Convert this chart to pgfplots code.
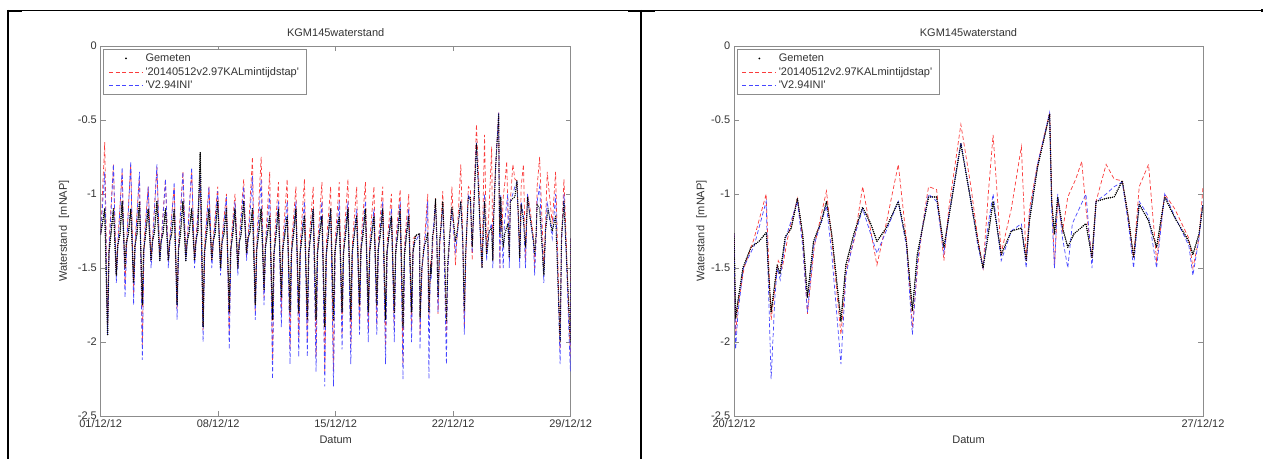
\documentclass[border=0pt]{standalone}
\usepackage{fontspec}
\setmainfont{Liberation Sans}
\usepackage{pgfplots}
\usepackage{pgfplotstable}
\pgfplotsset{compat=1.18}

% ---------- right panel (days after 20/12/12) ----------
\pgfplotstableread{
t y
0.000 -1.27
0.024 -1.84
0.060 -1.72
0.133 -1.50
0.253 -1.36
0.373 -1.32
0.482 -1.26
0.512 -1.50
0.554 -1.80
0.602 -1.63
0.645 -1.48
0.687 -1.54
0.765 -1.29
0.855 -1.23
0.946 -1.03
1.024 -1.27
1.096 -1.70
1.187 -1.32
1.307 -1.18
1.380 -1.05
1.458 -1.27
1.596 -1.86
1.669 -1.48
1.789 -1.27
1.920 -1.09
2.040 -1.20
2.133 -1.32
2.271 -1.23
2.452 -1.05
2.572 -1.32
2.663 -1.79
2.735 -1.41
2.813 -1.23
2.904 -1.02
3.024 -1.02
3.133 -1.36
3.205 -1.16
3.386 -0.66
3.536 -1.05
3.639 -1.32
3.717 -1.50
3.795 -1.27
3.867 -1.05
3.988 -1.41
4.139 -1.25
4.289 -1.23
4.361 -1.45
4.410 -1.18
4.530 -0.82
4.711 -0.46
4.741 -1.05
4.783 -1.27
4.831 -1.02
4.904 -1.23
4.982 -1.36
5.072 -1.27
5.253 -1.20
5.343 -1.43
5.404 -1.05
5.554 -1.03
5.675 -1.02
5.795 -0.91
5.886 -1.16
5.964 -1.43
6.048 -1.07
6.187 -1.18
6.307 -1.36
6.428 -1.02
6.578 -1.16
6.789 -1.32
6.849 -1.41
6.940 -1.27
7.000 -1.07
}\RGem

\pgfplotstableread{
t y
0.000 -1.27
0.024 -1.95
0.060 -1.75
0.150 -1.50
0.300 -1.30
0.480 -1.00
0.512 -1.40
0.554 -1.85
0.620 -1.60
0.660 -1.45
0.720 -1.50
0.800 -1.30
0.946 -1.03
1.024 -1.30
1.096 -1.81
1.200 -1.35
1.380 -0.98
1.458 -1.30
1.596 -1.95
1.680 -1.50
1.800 -1.30
1.920 -0.95
2.133 -1.48
2.271 -1.20
2.452 -0.80
2.572 -1.30
2.663 -1.90
2.750 -1.45
2.850 -1.10
2.904 -0.95
3.024 -0.97
3.133 -1.45
3.205 -1.10
3.386 -0.53
3.536 -0.95
3.639 -1.30
3.717 -1.50
3.795 -1.00
3.867 -0.60
3.988 -1.40
4.139 -1.10
4.289 -0.68
4.361 -1.45
4.410 -1.10
4.530 -0.80
4.711 -0.45
4.741 -1.00
4.783 -1.50
4.831 -1.05
4.904 -1.25
4.982 -1.02
5.100 -0.90
5.190 -0.78
5.253 -1.10
5.343 -1.43
5.404 -1.05
5.554 -0.80
5.675 -0.90
5.795 -0.91
5.886 -1.16
5.964 -1.43
6.048 -0.95
6.187 -0.80
6.307 -1.45
6.428 -1.00
6.578 -1.10
6.789 -1.30
6.849 -1.50
6.940 -1.30
7.000 -0.95
}\RRed

\pgfplotstableread{
t y
0.000 -1.27
0.024 -2.05
0.060 -1.80
0.140 -1.50
0.300 -1.35
0.480 -1.05
0.512 -1.60
0.554 -2.25
0.610 -1.70
0.645 -1.50
0.690 -1.58
0.770 -1.30
0.946 -1.05
1.024 -1.35
1.096 -1.80
1.190 -1.35
1.380 -1.08
1.458 -1.40
1.596 -2.15
1.670 -1.55
1.790 -1.30
1.920 -1.10
2.133 -1.40
2.271 -1.25
2.452 -1.05
2.572 -1.35
2.663 -1.95
2.740 -1.45
2.820 -1.20
2.904 -1.00
3.024 -1.05
3.133 -1.40
3.205 -1.15
3.386 -0.65
3.536 -1.05
3.639 -1.35
3.717 -1.50
3.795 -1.20
3.867 -1.00
3.988 -1.45
4.139 -1.25
4.289 -1.20
4.361 -1.50
4.410 -1.15
4.530 -0.80
4.711 -0.45
4.741 -1.10
4.783 -1.50
4.831 -1.00
4.904 -1.30
4.982 -1.50
5.050 -1.20
5.253 -1.00
5.343 -1.50
5.404 -1.05
5.554 -1.00
5.675 -0.95
5.795 -0.92
5.886 -1.20
5.964 -1.50
6.048 -1.05
6.187 -1.15
6.307 -1.50
6.428 -1.00
6.578 -1.15
6.789 -1.35
6.849 -1.55
6.940 -1.30
7.000 -1.05
}\RBlue

% ---------- left panel, days after 01/12/12 (0 to 19) ----------
\pgfplotstableread{
t y
0.00 -1.27
0.24 -1.10
0.41 -1.95
0.49 -1.40
0.60 -1.28
0.76 -1.10
0.93 -1.55
1.01 -1.35
1.15 -1.27
1.28 -1.05
1.45 -1.50
1.53 -1.33
1.65 -1.27
1.79 -1.10
1.96 -1.60
2.04 -1.35
2.16 -1.27
2.31 -1.05
2.48 -1.75
2.56 -1.38
2.68 -1.27
2.83 -1.10
3.00 -1.45
3.08 -1.32
3.20 -1.26
3.35 -1.05
3.52 -1.45
3.60 -1.32
3.72 -1.26
3.86 -1.10
4.03 -1.45
4.11 -1.32
4.23 -1.27
4.38 -1.10
4.55 -1.75
4.63 -1.38
4.75 -1.27
4.90 -1.05
5.07 -1.45
5.15 -1.32
5.27 -1.26
5.42 -1.10
5.59 -1.45
5.67 -1.32
5.79 -1.25
5.93 -0.72
6.10 -1.90
6.18 -1.40
6.30 -1.28
6.45 -1.10
6.62 -1.45
6.70 -1.32
6.82 -1.26
6.97 -1.05
7.14 -1.50
7.22 -1.33
7.34 -1.27
7.49 -1.10
7.66 -1.80
7.74 -1.38
7.86 -1.28
8.00 -1.10
8.17 -1.50
8.25 -1.33
8.37 -1.27
8.52 -1.05
8.69 -1.40
8.77 -1.30
8.89 -1.26
9.04 -1.10
9.21 -1.75
9.29 -1.38
9.41 -1.27
9.56 -1.10
9.73 -1.65
9.81 -1.36
9.93 -1.27
10.07 -1.15
10.24 -1.85
10.32 -1.40
10.44 -1.28
10.59 -1.10
10.76 -1.70
10.84 -1.38
10.96 -1.28
11.11 -1.15
11.28 -1.80
11.36 -1.40
11.48 -1.28
11.63 -1.10
11.80 -1.80
11.88 -1.40
12.00 -1.28
12.14 -1.15
12.31 -1.85
12.39 -1.40
12.51 -1.28
12.66 -1.10
12.83 -1.85
12.91 -1.40
13.03 -1.28
13.18 -1.15
13.35 -1.90
13.43 -1.42
13.55 -1.29
13.70 -1.10
13.87 -1.85
13.95 -1.40
14.07 -1.28
14.21 -1.15
14.38 -1.80
14.46 -1.40
14.58 -1.28
14.73 -1.10
14.90 -1.85
14.98 -1.40
15.10 -1.28
15.25 -1.15
15.42 -1.75
15.50 -1.38
15.62 -1.28
15.77 -1.10
15.94 -1.80
16.02 -1.40
16.14 -1.28
16.28 -1.15
16.45 -1.75
16.53 -1.38
16.65 -1.28
16.80 -1.10
16.97 -1.85
17.05 -1.40
17.17 -1.28
17.32 -1.15
17.49 -1.80
17.57 -1.40
17.69 -1.28
17.84 -1.10
18.01 -1.90
18.09 -1.42
18.21 -1.28
18.35 -1.15
18.52 -1.80
18.60 -1.40
18.75 -1.28
19.00 -1.27
}\LGem

\pgfplotstableread{
t y
0.00 -1.27
0.24 -0.65
0.41 -1.90
0.51 -1.30
0.76 -0.80
0.93 -1.55
1.03 -1.30
1.28 -0.85
1.45 -1.62
1.55 -1.30
1.79 -0.80
1.96 -1.68
2.06 -1.30
2.31 -0.88
2.48 -2.02
2.58 -1.32
2.83 -0.95
3.00 -1.45
3.10 -1.28
3.35 -0.82
3.52 -1.42
3.62 -1.28
3.86 -0.90
4.03 -1.45
4.13 -1.28
4.38 -0.95
4.55 -1.78
4.65 -1.30
4.90 -0.85
5.07 -1.42
5.17 -1.28
5.42 -0.85
5.59 -1.45
5.69 -1.28
5.93 -0.90
6.10 -1.92
6.20 -1.32
6.45 -0.95
6.62 -1.45
6.72 -1.28
6.97 -0.95
7.14 -1.50
7.24 -1.28
7.49 -1.00
7.66 -1.95
7.76 -1.32
8.00 -1.00
8.17 -1.50
8.27 -1.28
8.52 -0.90
8.69 -1.42
8.79 -1.28
9.04 -0.75
9.21 -1.80
9.31 -1.30
9.56 -0.75
9.73 -1.70
9.83 -1.30
10.07 -0.85
10.24 -2.15
10.34 -1.32
10.59 -0.92
10.76 -1.82
10.86 -1.30
11.11 -0.90
11.28 -2.05
11.38 -1.32
11.63 -0.95
11.80 -2.00
11.90 -1.32
12.14 -0.90
12.31 -2.00
12.41 -1.32
12.66 -0.95
12.83 -2.10
12.93 -1.32
13.18 -0.92
13.35 -2.20
13.45 -1.32
13.70 -0.95
13.87 -2.20
13.97 -1.32
14.21 -0.92
14.38 -1.95
14.48 -1.32
14.73 -0.90
14.90 -2.05
15.00 -1.32
15.25 -0.95
15.42 -1.88
15.52 -1.30
15.77 -0.92
15.94 -1.92
16.04 -1.30
16.28 -0.95
16.45 -1.88
16.55 -1.30
16.80 -0.95
16.97 -2.05
17.07 -1.32
17.32 -1.00
17.49 -1.92
17.59 -1.30
17.84 -0.97
18.01 -2.15
18.11 -1.32
18.35 -1.00
18.52 -1.92
18.62 -1.30
19.00 -1.27
}\LRed

\pgfplotstableread{
t y
0.00 -1.27
0.24 -0.85
0.41 -1.95
0.51 -1.35
0.76 -0.80
0.93 -1.60
1.03 -1.35
1.28 -0.82
1.45 -1.70
1.55 -1.35
1.79 -0.78
1.96 -1.75
2.06 -1.35
2.31 -0.85
2.48 -2.12
2.58 -1.38
2.83 -0.95
3.00 -1.50
3.10 -1.32
3.35 -0.80
3.52 -1.45
3.62 -1.32
3.86 -0.90
4.03 -1.50
4.13 -1.32
4.38 -0.92
4.55 -1.85
4.65 -1.35
4.90 -0.85
5.07 -1.45
5.17 -1.32
5.42 -0.82
5.59 -1.50
5.69 -1.32
5.93 -0.88
6.10 -2.00
6.20 -1.38
6.45 -0.95
6.62 -1.50
6.72 -1.32
6.97 -0.98
7.14 -1.55
7.24 -1.32
7.49 -1.02
7.66 -2.05
7.76 -1.38
8.00 -1.05
8.17 -1.55
8.27 -1.32
8.52 -0.95
8.69 -1.45
8.79 -1.32
9.04 -0.88
9.21 -1.85
9.31 -1.35
9.56 -0.90
9.73 -1.75
9.83 -1.35
10.07 -1.00
10.24 -2.25
10.34 -1.38
10.59 -1.05
10.76 -1.90
10.86 -1.35
11.11 -1.05
11.28 -2.15
11.38 -1.38
11.63 -1.05
11.80 -2.10
11.90 -1.38
12.14 -1.05
12.31 -2.10
12.41 -1.38
12.66 -1.10
12.83 -2.20
12.93 -1.38
13.18 -1.05
13.35 -2.30
13.45 -1.38
13.70 -1.10
13.87 -2.30
13.97 -1.38
14.21 -1.05
14.38 -2.05
14.48 -1.38
14.73 -1.05
14.90 -2.15
15.00 -1.38
15.25 -1.10
15.42 -1.95
15.52 -1.35
15.77 -1.05
15.94 -2.00
16.04 -1.35
16.28 -1.10
16.45 -1.95
16.55 -1.35
16.80 -1.05
16.97 -2.15
17.07 -1.38
17.32 -1.10
17.49 -2.00
17.59 -1.35
17.84 -1.05
18.01 -2.25
18.11 -1.38
18.35 -1.10
18.52 -2.00
18.62 -1.35
19.00 -1.27
}\LBlue

% ---------- left panel, days 26 to 28 ----------
\pgfplotstableread{
t y
26.00 -1.07
26.15 -1.10
26.40 -1.55
26.50 -1.25
26.65 -1.10
26.90 -1.25
27.10 -1.15
27.37 -2.00
27.45 -1.30
27.60 -1.05
27.98 -2.00
28.00 -1.30
}\EGem

\pgfplotstableread{
t y
26.00 -0.95
26.15 -0.75
26.40 -1.50
26.50 -1.20
26.60 -0.85
26.90 -1.20
27.10 -0.85
27.37 -2.05
27.45 -1.30
27.60 -0.90
27.98 -2.10
28.00 -1.30
}\ERed

\pgfplotstableread{
t y
26.00 -1.05
26.15 -0.95
26.40 -1.60
26.50 -1.25
26.60 -1.05
26.90 -1.30
27.10 -1.00
27.37 -2.15
27.45 -1.35
27.60 -1.00
27.98 -2.20
28.00 -1.30
}\EBlue

\definecolor{mred}{RGB}{250,60,60}
\definecolor{mblue}{RGB}{70,70,255}

\pgfplotsset{
  mystyle/.style={
    scale only axis, height=370pt,
    ymin=-2.5, ymax=0,
    ytick={-2.5,-2,-1.5,-1,-0.5,0},
    yticklabels={-2.5,-2,-1.5,-1,-0.5,0},
    tick align=inside, major tick length=5pt,
    xtick pos=both, ytick pos=both,
    xticklabel pos=lower, yticklabel pos=left,
    axis line style={black!45, line width=0.8pt},
    every tick/.style={black!45, line width=0.6pt},
    tick label style={text=black!80},
    label style={text=black!80},
    title style={text=black!80},
    title=KGM145waterstand, xlabel=Datum,
    ylabel={Waterstand\hspace{0.7em}[mNAP]},
    legend cell align=left,
    legend style={at={(axis description cs:0,1)}, anchor=north west,
      xshift=2.5pt, yshift=-3pt, draw=black!45, line width=0.6pt,
      inner xsep=5pt, inner ysep=2.5pt,
      nodes={inner sep=2pt, text=black!80}, row sep=0pt},
  },
}
\tikzset{
  gemline/.style={draw=black, line width=1.4pt, dash pattern=on 0pt off 2.1pt, line cap=round},
  redline/.style={draw=mred, line width=0.7pt, dash pattern=on 4pt off 2.5pt},
  blueline/.style={draw=mblue, line width=0.7pt, dash pattern=on 4pt off 2.5pt},
}
\newcommand{\gemlegend}{\path[draw=none] (0pt,0pt) -- (34pt,0pt); \fill[black, draw=none] (17pt,0pt) circle (1pt);}
\newcommand{\redlegend}{\draw[draw=mred, line width=0.8pt, dash pattern=on 4pt off 2.5pt] (0pt,0pt) -- (34pt,0pt);}
\newcommand{\bluelegend}{\draw[draw=mblue, line width=1pt, dash pattern=on 4pt off 2.5pt] (0pt,0pt) -- (34pt,0pt);}

\begin{document}
\fontsize{11}{13}\selectfont
\begin{tikzpicture}[x=1pt,y=1pt]
\useasboundingbox (0,0) rectangle (1263,459);
% table frame
\draw[line width=1.5pt] (7,448.3) -- (1262,448.3);
\draw[line width=2pt] (7.5,449) -- (7.5,0);
\draw[line width=2.2pt] (640.7,449) -- (640.7,0);
\fill (7,447) rectangle (22,449.3);
\fill (628,447) rectangle (655,449.3);
\fill (1260.5,446.8) rectangle (1263,449.5);

\begin{axis}[mystyle, at={(100.7pt,43pt)}, anchor=south west, width=470pt,
  xmin=0, xmax=28, xtick={0,7,14,21,28},
  xticklabels={01/12/12,08/12/12,15/12/12,22/12/12,29/12/12},
  ylabel style={at={(axis description cs:-0.078,0.5)}, anchor=center}]
\addplot[gemline, legend image code/.code={\gemlegend}] table[x=t, y=y] {\LGem};
\addlegendentry{Gemeten}
\addplot[redline, legend image code/.code={\redlegend}] table[x=t, y=y] {\LRed};
\addlegendentry{\textquotesingle 20140512v2.97KALmintijdstap\textquotesingle}
\addplot[blueline, legend image code/.code={\bluelegend}] table[x=t, y=y] {\LBlue};
\addlegendentry{\textquotesingle V2.94INI\textquotesingle}
\addplot[redline, forget plot] table[x expr=\thisrow{t}+19, y=y] {\RRed};
\addplot[redline, forget plot] table[x=t, y=y] {\ERed};
\addplot[blueline, forget plot] table[x expr=\thisrow{t}+19, y=y] {\RBlue};
\addplot[blueline, forget plot] table[x=t, y=y] {\EBlue};
\addplot[gemline, forget plot] table[x=t, y=y] {\LGem};
\addplot[gemline, forget plot] table[x expr=\thisrow{t}+19, y=y] {\RGem};
\addplot[gemline, forget plot] table[x=t, y=y] {\EGem};
\end{axis}

\begin{axis}[mystyle, at={(734pt,43pt)}, anchor=south west, width=469pt,
  xmin=0, xmax=7, xtick={0,7},
  xticklabels={20/12/12,27/12/12},
  ylabel style={at={(axis description cs:-0.069,0.5)}, anchor=center}]
\addplot[gemline, legend image code/.code={\gemlegend}] table[x=t, y=y] {\RGem};
\addlegendentry{Gemeten}
\addplot[redline, legend image code/.code={\redlegend}] table[x=t, y=y] {\RRed};
\addlegendentry{\textquotesingle 20140512v2.97KALmintijdstap\textquotesingle}
\addplot[blueline, legend image code/.code={\bluelegend}] table[x=t, y=y] {\RBlue};
\addlegendentry{\textquotesingle V2.94INI\textquotesingle}
\addplot[gemline, forget plot] table[x=t, y=y] {\RGem};
\end{axis}
\end{tikzpicture}
\end{document}
